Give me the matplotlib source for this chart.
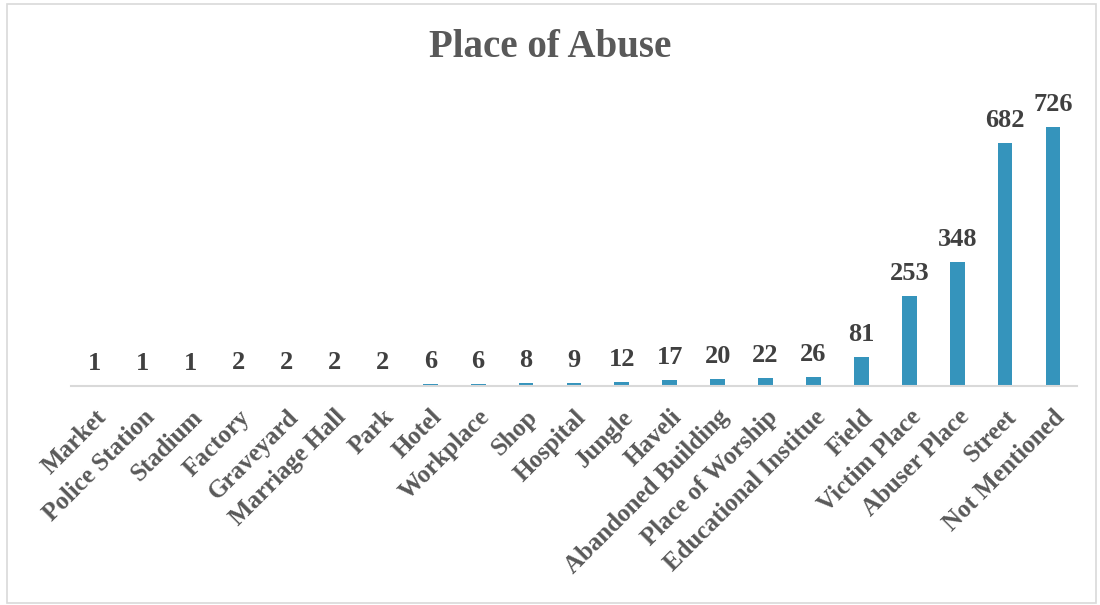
import numpy as np
import matplotlib.pyplot as plt
from matplotlib.patches import Rectangle

places = ["Market", "Police Station", "Stadium", "Factory", "Graveyard",
          "Marriage Hall", "Park", "Hotel", "Workplace", "Shop", "Hospital",
          "Jungle", "Haveli", "Abandoned Building", "Place of Worship",
          "Educational Institue", "Field", "Victim Place", "Abuser Place",
          "Street", "Not Mentioned"]
counts = [1, 1, 1, 2, 2, 2, 2, 6, 6, 8, 9, 12, 17, 20, 22, 26, 81, 253, 348, 682, 726]

plt.rcParams['font.family'] = ['Liberation Serif', 'DejaVu Serif']
plt.rcParams['font.weight'] = 'bold'

fig = plt.figure(figsize=(11, 6.05), dpi=100)
ax = fig.add_axes([0.0645, 0.362, 0.9145, 0.471])

x = np.arange(len(places))
bars = ax.bar(x, counts, width=0.31, color="#3594BC")

for xi, v in zip(x, counts):
    ax.annotate(str(v), (xi, v), xytext=(0, 8), textcoords="offset points",
                ha="center", va="bottom", fontsize=19, fontweight="bold",
                color="#404040")

ax.set_xlim(-0.5, len(places) - 0.5)
ax.set_ylim(0, 800)
ax.set_yticks([])
ax.set_xticks(x)
ax.set_xticklabels(places, rotation=45, ha="right", rotation_mode="anchor",
                   fontsize=18, fontweight="bold", color="#595959")
ax.tick_params(axis="x", length=0, pad=14)
for s in ["top", "right", "left"]:
    ax.spines[s].set_visible(False)
ax.spines["bottom"].set_color("#D9D9D9")
ax.spines["bottom"].set_linewidth(1.5)

fig.text(0.5, 0.921, "Place of Abuse", ha="center", va="center",
         fontsize=28, fontweight="bold", color="#595959")

fig.patches.append(Rectangle((0.0065, 0.003), 0.99, 0.99, transform=fig.transFigure,
                             fill=False, edgecolor="#D9D9D9", linewidth=1.2))

fig.savefig("out.png", dpi=100)
